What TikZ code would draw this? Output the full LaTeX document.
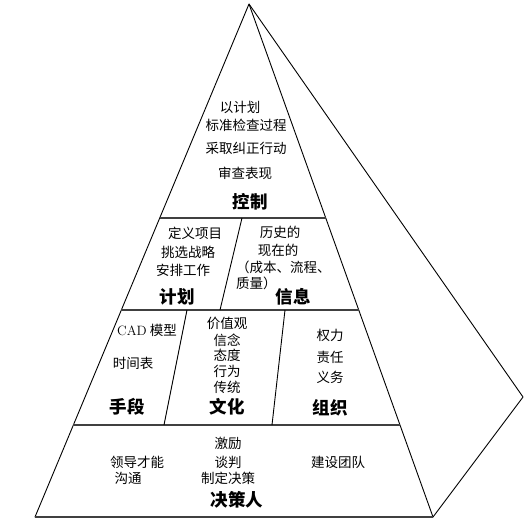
\documentclass[tikz,border=0pt]{standalone}
\usepackage{fontspec}
\newfontfamily\cjk{Noto Sans CJK SC}
\usetikzlibrary{calc}
\tikzstyle{every node}=[inner sep=0pt]
\tikzstyle{item}=[font=\cjk\fontsize{13.5}{15}\selectfont]
\tikzstyle{head}=[font=\cjk\bfseries\fontsize{17.5}{19}\selectfont]
\tikzstyle{edge}=[line width=0.9pt,line join=round]
\tikzstyle{floor}=[line width=1.2pt,black!75]

\begin{document}
\begin{tikzpicture}[x=1pt,y=-1pt]
  \useasboundingbox (0,0) rectangle (528,520);
  % corners of the pyramid
  \coordinate (apex) at (249,4);
  \coordinate (bl) at (35,517);
  \coordinate (br) at (433,517);
  \coordinate (back) at (523,397);
  % floor ends on the front face
  \coordinate (l1) at ($(apex)!.4172!(bl)$);
  \coordinate (r1) at ($(apex)!.4172!(br)$);
  \coordinate (l2) at ($(apex)!.5965!(bl)$);
  \coordinate (r2) at ($(apex)!.5965!(br)$);
  \coordinate (l3) at ($(apex)!.8207!(bl)$);
  \coordinate (r3) at ($(apex)!.8207!(br)$);
  % outline
  \draw[edge] (bl) -- (apex) -- (br) -- cycle;
  \draw[edge] (apex) -- (back) -- (br);
  % floors
  \draw[floor] (l1) -- (r1);
  \draw[floor] (l2) -- (r2);
  \draw[floor] (l3) -- (r3);
  \draw[floor] (bl) -- (br);
  % walls
  \draw[edge] (242,218) -- (220,310);
  \draw[edge] (187,310) -- (164,425);
  \draw[edge] (285,310) -- (272,425);

  % control
  \node[item] (ctrlA) at (240,107) {以计划};
  \node[item] (ctrlB) at (246,125) {标准检查过程};
  \node[item] (ctrlC) at (246,148) {采取纠正行动};
  \node[item] (ctrlD) at (245,173) {审查表现};
  \node[head] (ctrl) at (250,202) {控制};

  % plan
  \node[item] (planA) at (195,233) {定义项目};
  \node[item] (planB) at (188,252) {挑选战略};
  \node[item] (planC) at (183,270) {安排工作};
  \node[head] (plan) at (177,297) {计划};

  % information
  \node[item] (infoA) at (280,232) {历史的};
  \node[item] (infoB) at (278,250) {现在的};
  \node[item,anchor=west] (infoC) at (236,267) {（成本、流程、};
  \node[item,anchor=west] (infoD) at (236,283) {质量）};
  \node[head] (info) at (293,297) {信息};

  % means
  \node[item] (meanA) at (147,330) {{\rmfamily CAD} 模型};
  \node[item] (meanB) at (133,363) {时间表};
  \node[head] (mean) at (127,407) {手段};

  % culture
  \node[item] (cultA) at (227,323) {价值观};
  \node[item] (cultB) at (227,340) {信念};
  \node[item] (cultC) at (227,355) {态度};
  \node[item] (cultD) at (227,371) {行为};
  \node[item] (cultE) at (227,387) {传统};
  \node[head] (cult) at (227,407) {文化};

  % organisation
  \node[item] (orgA) at (330,335) {权力};
  \node[item] (orgB) at (330,357) {责任};
  \node[item] (orgC) at (330,377) {义务};
  \node[head] (org) at (330,408) {组织};

  % decision maker
  \node[item] (decA) at (137,462) {领导才能};
  \node[item] (decB) at (128,478) {沟通};
  \node[item] (decC) at (228,443) {激励};
  \node[item] (decD) at (228,462) {谈判};
  \node[item] (decE) at (228,478) {制定决策};
  \node[item] (decF) at (338,462) {建设团队};
  \node[head] (dec) at (237,500) {决策人};
\end{tikzpicture}
\end{document}
